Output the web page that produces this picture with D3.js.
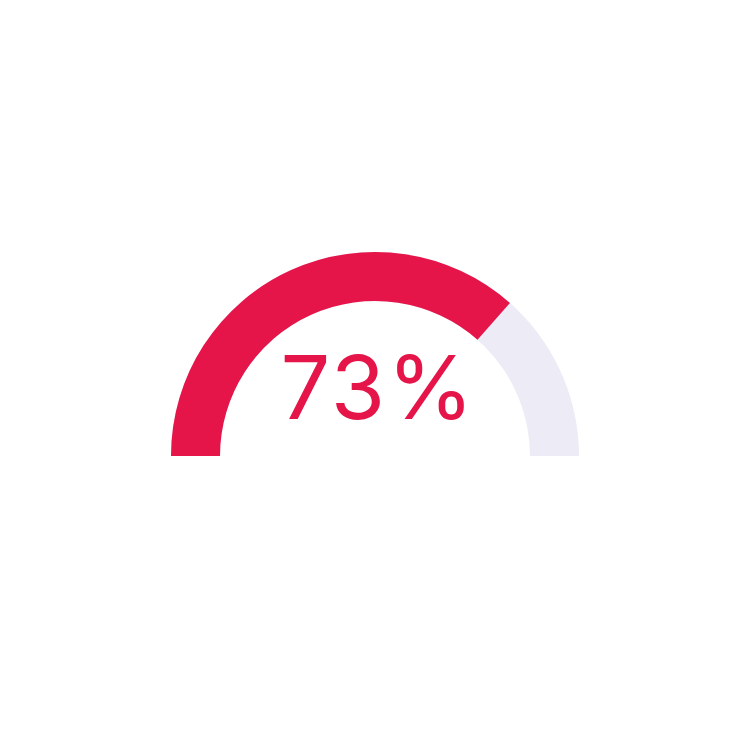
<!DOCTYPE html>
<html>
<head>
<meta charset="utf-8">
<script src="https://cdn.jsdelivr.net/npm/d3@7"></script>
<style>
  html, body { margin: 0; padding: 0; background: #fff; }
</style>
</head>
<body>
<svg id="chart" width="750" height="750"></svg>
<script>
// Gauge data
const gaugeValue = [73]
const gaugeDomain = [0, 100]
const gaugeLabel = ['73%']

const svg = d3.select('#chart')
const cx = 375
const cy = 456
const outerR = 204
const innerR = 155

const angle = d3.scaleLinear()
  .domain(gaugeDomain)
  .range([-Math.PI / 2, Math.PI / 2])

const arc = d3.arc()
  .innerRadius(innerR)
  .outerRadius(outerR)

const g = svg.append('g').attr('transform', `translate(${cx},${cy})`)

// background track
g.append('path')
  .attr('d', arc({ startAngle: angle(gaugeDomain[0]), endAngle: angle(gaugeDomain[1]) }))
  .attr('fill', '#ecebf6')

// value arc
g.append('path')
  .attr('d', arc({ startAngle: angle(gaugeDomain[0]), endAngle: angle(gaugeValue[0]) }))
  .attr('fill', '#e5154a')

g.append('text')
  .attr('x', 3)
  .attr('y', -37)
  .attr('text-anchor', 'middle')
  .attr('font-family', 'Inter, sans-serif')
  .attr('font-size', 88)
  .attr('font-weight', 400)
  .attr('letter-spacing', 2)
  .attr('fill', '#e5154a')
  .text(gaugeLabel[0])
</script>
</body>
</html>
